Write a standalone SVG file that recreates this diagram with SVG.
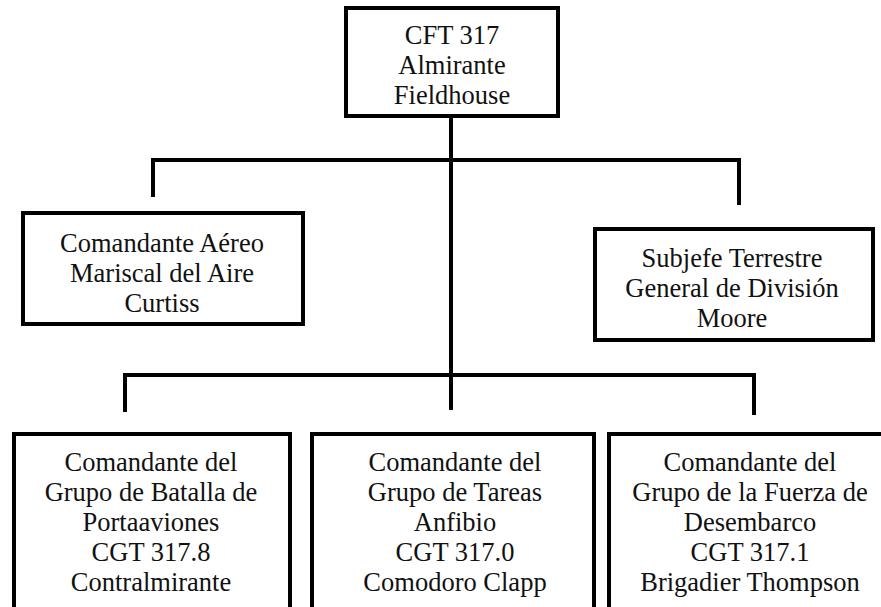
<svg xmlns="http://www.w3.org/2000/svg" width="881" height="607" viewBox="0 0 881 607">
<style>
.box{fill:#fff;stroke:#000;stroke-width:4}
.ln{fill:none;stroke:#000;stroke-width:4;stroke-linejoin:miter;stroke-linecap:butt}
</style>
<rect width="881" height="607" fill="#fff"/>
<g id="connectors">
<path class="ln" d="M451,118 V377"/>
<path class="ln" d="M153,197 V160 H739 V205"/>
<path class="ln" d="M125,412 V375 H754 V415"/>
<path class="ln" d="M451,375 V410"/>
</g>
<g font-family="Liberation Serif, Times New Roman, serif" font-size="26.5" fill="#111" text-anchor="middle">
<g id="n-cft">
<rect class="box" x="346" y="8" width="212" height="108"/>
<text x="452" y="44">CFT 317</text>
<text x="452" y="74">Almirante</text>
<text x="452" y="104">Fieldhouse</text>
</g>
<g id="n-aereo">
<rect class="box" x="23" y="213" width="280" height="111"/>
<text x="162" y="252">Comandante Aéreo</text>
<text x="162" y="282">Mariscal del Aire</text>
<text x="162" y="312">Curtiss</text>
</g>
<g id="n-terrestre">
<rect class="box" x="595" y="229" width="278" height="111"/>
<text x="732" y="267">Subjefe Terrestre</text>
<text x="732" y="297">General de División</text>
<text x="732" y="327">Moore</text>
</g>
<g id="n-portaaviones">
<rect class="box" x="14" y="434" width="276" height="200"/>
<text x="151" y="471">Comandante del</text>
<text x="151" y="501">Grupo de Batalla de</text>
<text x="151" y="531">Portaaviones</text>
<text x="151" y="561">CGT 317.8</text>
<text x="151" y="591">Contralmirante</text>
</g>
<g id="n-anfibio">
<rect class="box" x="312" y="434" width="282" height="200"/>
<text x="455" y="471">Comandante del</text>
<text x="455" y="501">Grupo de Tareas</text>
<text x="455" y="531">Anfibio</text>
<text x="455" y="561">CGT 317.0</text>
<text x="455" y="591">Comodoro Clapp</text>
</g>
<g id="n-desembarco">
<rect class="box" x="609" y="434" width="290" height="200"/>
<text x="750" y="471">Comandante del</text>
<text x="750" y="501">Grupo de la Fuerza de</text>
<text x="750" y="531">Desembarco</text>
<text x="750" y="561">CGT 317.1</text>
<text x="750" y="591">Brigadier Thompson</text>
</g>
</g>
</svg>
